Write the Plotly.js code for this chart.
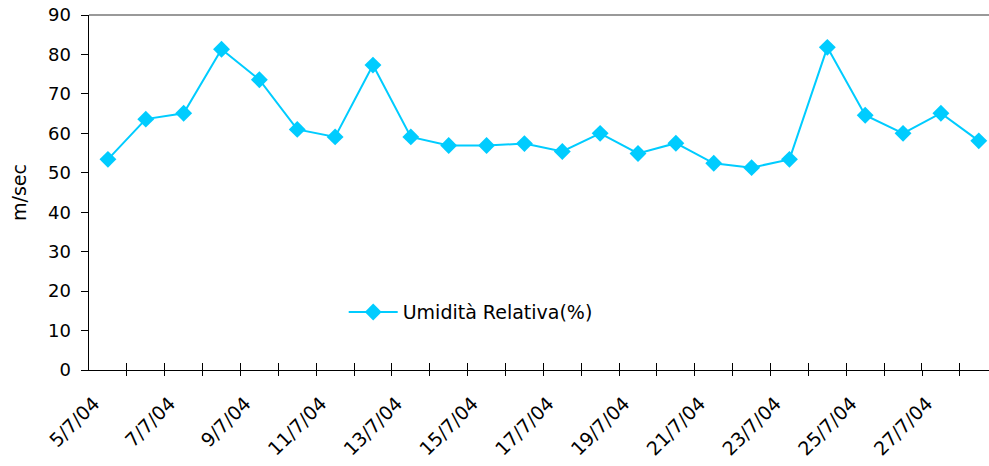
<!DOCTYPE html>
<html>
<head>
<meta charset="utf-8">
<script src="https://cdn.plot.ly/plotly-3.0.1.min.js"></script>
<style>html,body{margin:0;padding:0;background:#fff;}#chart{width:989px;height:466px;}</style>
</head>
<body>
<div id="chart"></div>
<script>
const dates = ["5/7/04","6/7/04","7/7/04","8/7/04","9/7/04","10/7/04","11/7/04","12/7/04",
  "13/7/04","14/7/04","15/7/04","16/7/04","17/7/04","18/7/04","19/7/04","20/7/04",
  "21/7/04","22/7/04","23/7/04","24/7/04","25/7/04","26/7/04","27/7/04","28/7/04"];
const umidita = [53.4,63.6,65.1,81.3,73.6,61.0,59.1,77.3,59.1,56.9,56.9,57.4,55.4,60.0,54.9,57.5,52.4,51.3,53.4,81.8,64.6,60.0,65.1,58.1];
const seriesName = "Umidità Relativa(%)";
const yTitle = "m/sec";

const idx = dates.map((d,i)=>i);
// ticks sit on category boundaries; every other boundary carries the label of the category to its right
const boundaries = idx.map(i => i - 0.5).concat([idx.length - 0.5]);
const boundaryText = boundaries.map((b, k) => (k < dates.length && k % 2 === 0) ? dates[k] : "");
const FONT = "DejaVu Sans, sans-serif";

const trace = {
  x: idx, y: umidita, name: seriesName, type: "scatter", mode: "lines+markers",
  line: {color: "#00CCFF", width: 2},
  marker: {symbol: "diamond", size: 13, color: "#00CCFF"},
  hovertext: dates
};

const xr = [-0.5, 23.27];
const layout = {
  width: 989, height: 466,
  margin: {l: 89, r: 0, t: 15, b: 96},
  paper_bgcolor: "#fff", plot_bgcolor: "#fff",
  font: {family: FONT, size: 17, color: "#000"},
  showlegend: true,
  legend: {x: 0.283, y: 0.163, xanchor: "left", yanchor: "middle", itemwidth: 49,
    bgcolor: "rgba(0,0,0,0)", font: {family: FONT, size: 19, color: "#000"}},
  xaxis: {
    type: "linear", range: xr, tickvals: boundaries, ticktext: boundaryText,
    ticks: "inside", ticklen: 7, tickcolor: "#000", tickwidth: 1,
    tickangle: -45, showgrid: false, zeroline: false,
    showline: true, linecolor: "#000", linewidth: 1,
    ticklabelstandoff: 14, ticklabelshift: 5,
    tickfont: {family: FONT, size: 19, color: "#000"},
    minor: {tick0: -0.499, dtick: 1, ticks: "outside", ticklen: 5, tickcolor: "#000", tickwidth: 1, showgrid: false}
  },
  yaxis: {
    range: [0, 90], dtick: 10, tick0: 0, showgrid: false, zeroline: false,
    showline: true, linecolor: "#000", linewidth: 1.5, mirror: false,
    ticks: "outside", ticklen: 7, tickcolor: "#000", ticklabelstandoff: 6,
    tickfont: {family: FONT, size: 18, color: "#000"},
    title: {text: yTitle, font: {family: FONT, size: 19, color: "#000"}, standoff: 16}
  },
  shapes: [{type: "line", xref: "paper", yref: "paper", x0: 0, x1: 1, y0: 1, y1: 1,
    line: {color: "#999", width: 2}}]
};
Plotly.newPlot("chart", [trace], layout, {staticPlot: true, displayModeBar: false});
</script>
</body>
</html>
